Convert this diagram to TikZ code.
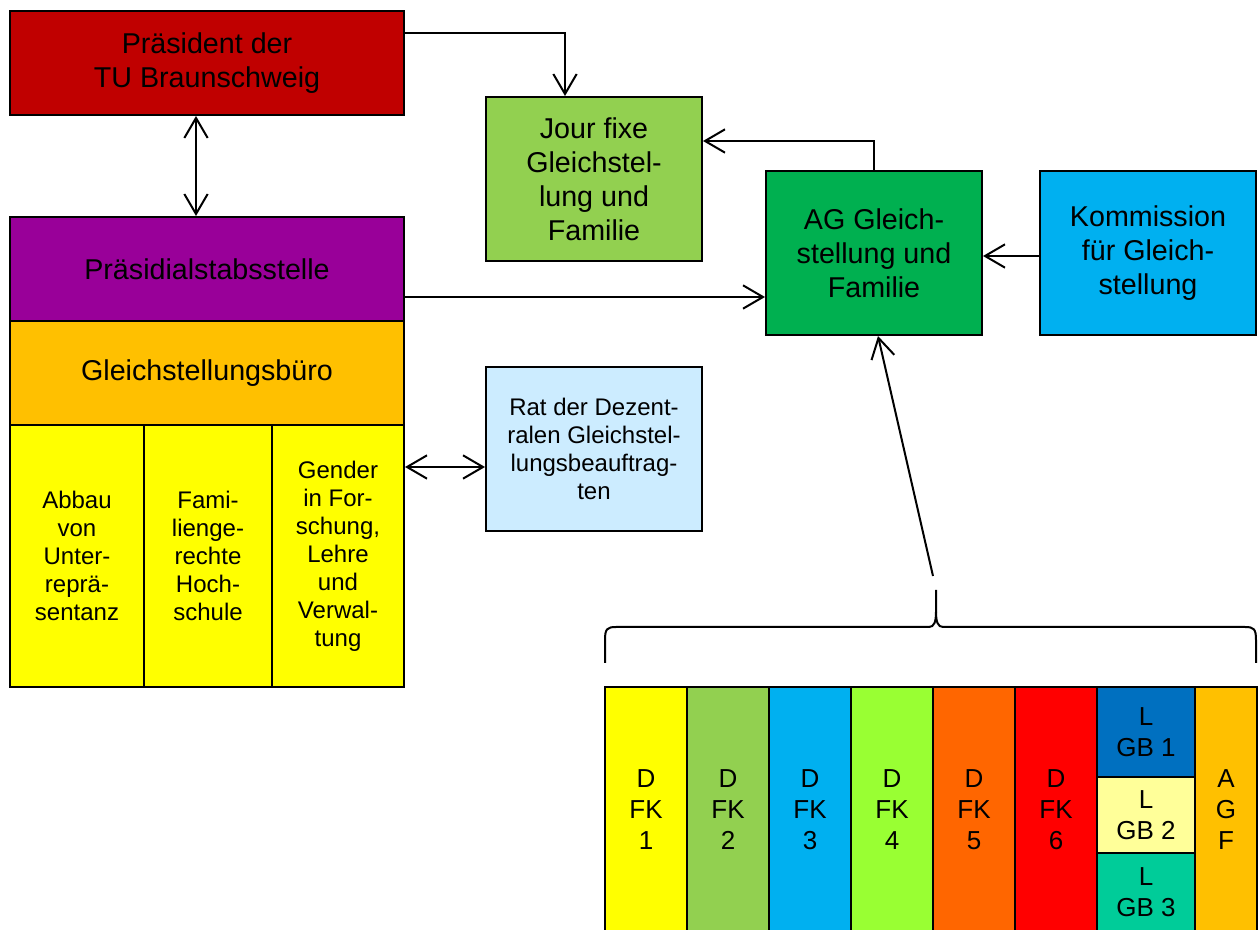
\documentclass[tikz,border=0pt]{standalone}
\usepackage{fontspec}
\setmainfont{Liberation Sans}
\usetikzlibrary{arrows.meta}
\definecolor{cPres}{HTML}{C00000}
\definecolor{cStab}{HTML}{990099}
\definecolor{cBuero}{HTML}{FFC000}
\definecolor{cYel}{HTML}{FFFF00}
\definecolor{cJour}{HTML}{92D050}
\definecolor{cAG}{HTML}{00B050}
\definecolor{cKom}{HTML}{00B0F0}
\definecolor{cRat}{HTML}{CCECFF}
\definecolor{cFiv}{HTML}{99FF33}
\definecolor{cFfi}{HTML}{FF6600}
\definecolor{cFsi}{HTML}{FF0000}
\definecolor{cLone}{HTML}{0070C0}
\definecolor{cLtwo}{HTML}{FFFF99}
\definecolor{cLthr}{HTML}{00CC99}
\newcommand\fbig{\fontsize{21.5}{25.5}\selectfont}
\newcommand\fmid{\fontsize{18}{21}\selectfont}
\newcommand\fbot{\fontsize{19.5}{23.25}\selectfont}
\begin{document}
\begin{tikzpicture}[x=0.75pt,y=-0.75pt,
  box/.style={draw=black,line width=1.5pt,inner sep=0pt,align=center},
  bigbox/.style={box,font=\fbig},
  midbox/.style={box,font=\fmid},
  botbox/.style={box,font=\fbot,minimum width=61.5pt,minimum height=183.75pt},
  arr/.style={line width=1.5pt,-{Straight Barb[length=15pt,width=17.5pt]}},
  biarr/.style={line width=1.5pt,{Straight Barb[length=15pt,width=17.5pt]}-{Straight Barb[length=15pt,width=17.5pt]}},
  bracel/.style={line width=1.5pt}]
\useasboundingbox (0,0) rectangle (1258,930);
\clip (0,0) rectangle (1258,930);
% left column
\node[bigbox,fill=cPres,minimum width=295.5pt,minimum height=78pt] (pres) at (207,63) {Präsident der\\TU Braunschweig};
\node[bigbox,fill=cStab,minimum width=295.5pt,minimum height=78pt] (stab) at (207,269) {Präsidialstabsstelle};
\node[bigbox,fill=cBuero,minimum width=295.5pt,minimum height=78pt] (buero) at (207,373) {Gleichstellungsbüro};
\node[midbox,fill=cYel,minimum width=100.5pt,minimum height=196.5pt] (c1) at (77,556) {Abbau\\von\\Unter-\\reprä-\\sentanz};
\node[midbox,fill=cYel,minimum width=96pt,minimum height=196.5pt] (c2) at (208,556) {Fami-\\lienge-\\rechte\\Hoch-\\schule};
\node[midbox,fill=cYel,minimum width=99pt,minimum height=196.5pt] (c3) at (338,556) {Gender\\in For-\\schung,\\Lehre\\und\\Verwal-\\tung};
% middle / right
\node[bigbox,fill=cJour,minimum width=162pt,minimum height=123pt] (jour) at (594,179) {Jour fixe\\Gleichstel-\\lung und\\Familie};
\node[bigbox,fill=cAG,minimum width=162pt,minimum height=123pt] (ag) at (874,253) {AG Gleich-\\stellung und\\Familie};
\node[bigbox,fill=cKom,minimum width=162pt,minimum height=123pt] (kom) at (1148,253) {Kommission\\für Gleich-\\stellung};
\node[midbox,fill=cRat,minimum width=162pt,minimum height=123pt] (rat) at (594,449) {Rat der Dezent-\\ralen Gleichstel-\\lungsbeauftrag-\\ten};
% bottom row
\node[botbox,fill=cYel] (f1) at (646,809.5) {D\\FK\\1};
\node[botbox,fill=cJour] (f2) at (728,809.5) {D\\FK\\2};
\node[botbox,fill=cKom] (f3) at (810,809.5) {D\\FK\\3};
\node[botbox,fill=cFiv] (f4) at (892,809.5) {D\\FK\\4};
\node[botbox,fill=cFfi] (f5) at (974,809.5) {D\\FK\\5};
\node[botbox,fill=cFsi] (f6) at (1056,809.5) {D\\FK\\6};
\node[box,font=\fbot,fill=cLone,minimum width=73.5pt,minimum height=67.5pt] (l1) at (1146,732) {L\\GB 1};
\node[box,font=\fbot,fill=cLtwo,minimum width=73.5pt,minimum height=57pt] (l2) at (1146,815) {L\\GB 2};
\node[box,font=\fbot,fill=cLthr,minimum width=73.5pt,minimum height=59.25pt] (l3) at (1146,892.5) {L\\GB 3};
\node[box,font=\fbot,fill=cBuero,minimum width=46.5pt,minimum height=183.75pt] (agf) at (1226,809.5) {A\\G\\F};
% connectors
\draw[biarr] ([xshift=-8.25pt]pres.south) -- ([xshift=-8.25pt]stab.north);
\coordinate (p1) at ([yshift=22.5pt]pres.east);
\draw[arr] (p1) -| ([xshift=-21.75pt]jour.north);
\draw[arr] (ag.north) |- ([yshift=28.5pt]jour.east);
\draw[arr] ([yshift=-2.25pt]kom.west) -- ([yshift=-2.25pt]ag.east);
\coordinate (s1) at ([yshift=-21pt]stab.east);
\draw[arr] (s1) -- (s1 -| ag.west);
\coordinate (r1) at ([yshift=66.75pt]c3.east);
\draw[biarr] (r1) -- (r1 -| rat.west);
\coordinate (bt) at (933,576);
\draw[arr] (bt) -- ([xshift=3pt]ag.south);
% brace
\draw[bracel] (605,663) -- (605,640) .. controls (605,629) and (607,627) .. (616,627)
  -- (929,627) .. controls (934,627) and (936,622) .. (936,612) -- (936,590);
\draw[bracel] (936,612) .. controls (936,622) and (938,627) .. (943,627)
  -- (1245,627) .. controls (1254,627) and (1256,629) .. (1256,640) -- (1256,663);
\end{tikzpicture}
\end{document}
